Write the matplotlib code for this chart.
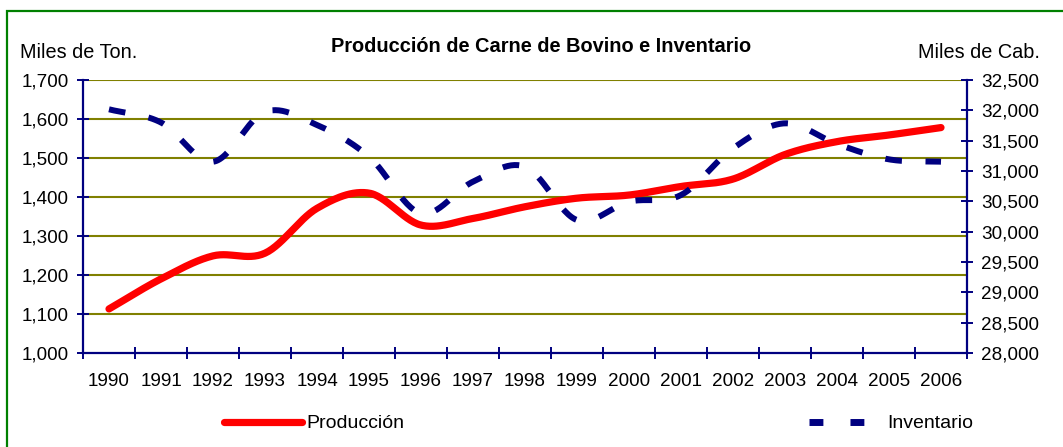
import numpy as np
import matplotlib
matplotlib.use("Agg")
import matplotlib.pyplot as plt
from matplotlib.lines import Line2D
from matplotlib.patches import Rectangle
from matplotlib.ticker import FuncFormatter, FixedLocator

plt.rcParams['font.family'] = ['Liberation Sans', 'DejaVu Sans']
plt.rcParams['lines.scale_dashes'] = False

years = ["1990", "1991", "1992", "1993", "1994", "1995", "1996", "1997", "1998",
         "1999", "2000", "2001", "2002", "2003", "2004", "2005", "2006"]
produccion = [1113, 1190, 1249, 1256, 1371, 1410, 1328, 1345, 1375, 1397, 1405,
              1427, 1446, 1509, 1542, 1559, 1578]
inventario = [32017, 31800, 31153, 31975, 31758, 31236, 30302, 30824, 31071,
              30192, 30494, 30604, 31374, 31786, 31445, 31192, 31153]

left_ticks = [1000, 1100, 1200, 1300, 1400, 1500, 1600, 1700]
right_ticks = [28000, 28500, 29000, 29500, 30000, 30500, 31000, 31500, 32000, 32500]


def smooth(xs, ys, n=30):
    # Catmull-Rom spline through the data points (Excel-like smoothed line)
    xs = np.asarray(xs, float)
    ys = np.asarray(ys, float)
    px = np.concatenate([[2 * xs[0] - xs[1]], xs, [2 * xs[-1] - xs[-2]]])
    py = np.concatenate([[2 * ys[0] - ys[1]], ys, [2 * ys[-1] - ys[-2]]])
    ox, oy = [], []
    for i in range(1, len(px) - 2):
        t = np.linspace(0, 1, n, endpoint=(i == len(px) - 3))
        for arr, p in ((ox, px), (oy, py)):
            p0, p1, p2, p3 = p[i - 1], p[i], p[i + 1], p[i + 2]
            arr.extend(0.5 * ((2 * p1) + (-p0 + p2) * t +
                              (2 * p0 - 5 * p1 + 4 * p2 - p3) * t ** 2 +
                              (-p0 + 3 * p1 - 3 * p2 + p3) * t ** 3))
    return np.array(ox), np.array(oy)


W, H = 1063, 447
fig = plt.figure(figsize=(W / 100, H / 100), dpi=100)
fig.patch.set_facecolor('white')

# green frame
fig.patches.append(Rectangle((6.5 / W, -0.1), 1.2, 1 - 10.5 / H + 0.1,
                             transform=fig.transFigure, fill=False,
                             edgecolor='#008000', linewidth=1.6))

ax = fig.add_axes([83 / W, 1 - 353 / H, (967 - 83) / W, (353 - 80) / H])
ax2 = ax.twinx()

x = np.arange(len(years))
navy = '#000080'
FS = 13.6

sx, sy = smooth(x, produccion)
ax.plot(sx, sy, color='#FF0000', linewidth=5.2, solid_capstyle='round', zorder=3)

ix, iy = smooth(x, inventario)
ax2.plot(ix, iy, color=navy, linewidth=4.3, dash_capstyle='butt',
         linestyle=(0, (12, 17)), zorder=4)

ax.set_xlim(-0.5, len(years) - 0.5)
ax.set_ylim(1000, 1700)
ax2.set_ylim(28000, 32500)

ax.xaxis.set_major_locator(FixedLocator(np.arange(-0.5, len(years), 1.0)))
ax.set_xticklabels([])
ax.set_xticks(x, minor=True)
ax.set_xticklabels(years, minor=True)
ax.tick_params(axis='x', which='major', direction='inout', length=8.6, width=1.4,
               color=navy)
ax.tick_params(axis='x', which='minor', length=0, pad=14.5, labelsize=FS)

ax.set_yticks(left_ticks)
ax.yaxis.set_major_formatter(FuncFormatter(lambda v, p: f"{int(v):,}"))
ax.tick_params(axis='y', direction='inout', length=8.6, width=1.4, color=navy,
               labelsize=FS, pad=6.0)
ax2.set_yticks(right_ticks)
ax2.yaxis.set_major_formatter(FuncFormatter(lambda v, p: f"{int(v):,}"))
ax2.tick_params(axis='y', direction='inout', length=8.6, width=1.4, color=navy,
                labelsize=FS, pad=6.0)

for g in left_ticks[1:]:
    ax.axhline(g, color='#808000', linewidth=1.5, zorder=1)

for a in (ax, ax2):
    a.spines['top'].set_visible(False)
    a.patch.set_visible(False)
    for s in ('left', 'right', 'bottom'):
        a.spines[s].set_color(navy)
        a.spines[s].set_linewidth(1.6)
ax.spines['right'].set_visible(False)
ax2.spines['left'].set_visible(False)
ax2.spines['bottom'].set_visible(False)

fig.text(541 / W, 1 - 46 / H, "Producción de Carne de Bovino e Inventario",
         ha='center', va='center', fontsize=14.4, fontweight='bold')
fig.text(20 / W, 1 - 52 / H, "Miles de Ton.", ha='left', va='center', fontsize=14.3)
fig.text(1040 / W, 1 - 53 / H, "Miles de Cab.", ha='right', va='center', fontsize=14.3)

# legend
fig.lines.append(Line2D([224 / W, 302 / W], [1 - 422 / H, 1 - 422 / H],
                        transform=fig.transFigure, color='#FF0000', linewidth=5.2,
                        solid_capstyle='round'))
fig.text(306 / W, 1 - 424 / H, "Producción", ha='left', va='center', fontsize=14.0)
fig.lines.append(Line2D([809 / W, 864 / W], [1 - 422 / H, 1 - 422 / H],
                        transform=fig.transFigure, color=navy, linewidth=5.0,
                        dash_capstyle='butt', linestyle=(0, (10, 19.5))))
fig.text(887 / W, 1 - 424 / H, "Inventario", ha='left', va='center', fontsize=14.0)

fig.savefig("out.png", dpi=100, facecolor='white')
